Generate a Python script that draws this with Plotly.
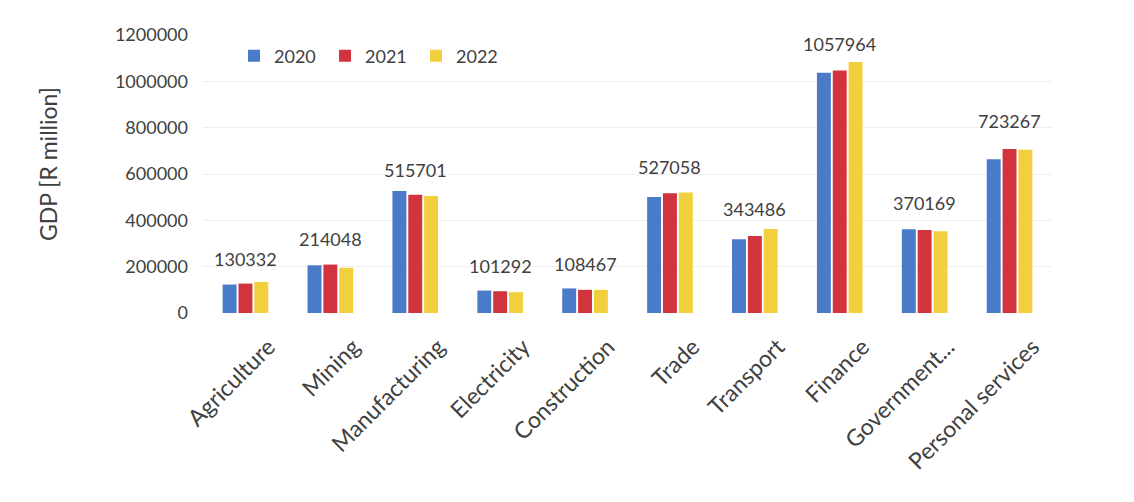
import plotly.graph_objects as go

# Sector GDP by year (R million)
sectors = ["Agriculture", "Mining", "Manufacturing", "Electricity", "Construction",
           "Trade", "Transport", "Finance", "Government services", "Personal services"]
sector_ticks = ["Agriculture", "Mining", "Manufacturing", "Electricity", "Construction",
                "Trade", "Transport", "Finance", "Government...", "Personal services"]

gdp_2020 = [123000, 206000, 527000, 97000, 106000, 501000, 318000, 1037000, 361000, 664000]
gdp_2021 = [127000, 209000, 510000, 94000, 100000, 517000, 332000, 1047000, 358000, 708000]
gdp_2022 = [134000, 195000, 505000, 90000, 100000, 520000, 363000, 1083000, 353000, 705000]

# Figures printed above each sector group
group_values = [130332, 214048, 515701, 101292, 108467, 527058, 343486, 1057964, 370169, 723267]

years = ["2020", "2021", "2022"]
series = [gdp_2020, gdp_2021, gdp_2022]
colors = ["#4a7bc9", "#d2343d", "#f2cf3c"]

FONT = "Lato"
TEXT = "#404040"

fig = go.Figure()
for name, vals, col in zip(years, series, colors):
    fig.add_trace(go.Bar(x=sectors, y=vals, name=name, marker_color=col,
                         marker_line_width=0))

for s, v in zip(sectors, group_values):
    fig.add_annotation(x=s, y=v, text=str(v), showarrow=False, xanchor="center",
                       yanchor="bottom", yshift=11,
                       font=dict(family=FONT, size=18, color=TEXT))

W, H = 1134, 502
L, R, T, B = 203, 82, 35, 189
plot_w = W - L - R
plot_h = H - T - B

fig.add_annotation(xref="paper", yref="paper", x=(48 - L) / plot_w,
                   y=1 - (164 - T) / plot_h,
                   text="GDP [R million]", textangle=-90, showarrow=False,
                   xanchor="center", yanchor="middle",
                   font=dict(family=FONT, size=23, color=TEXT))

fig.update_layout(
    width=W, height=H,
    margin=dict(l=L, r=R, t=T, b=B),
    paper_bgcolor="white", plot_bgcolor="white",
    barmode="group", bargap=0.44, bargroupgap=0.12,
    font=dict(family=FONT, size=18, color=TEXT),
    legend=dict(orientation="h", x=(234 - L) / plot_w, xanchor="left",
                y=0.924, yanchor="middle", font=dict(family=FONT, size=18, color=TEXT),
                bgcolor="rgba(0,0,0,0)", itemwidth=30, entrywidth=46),
    showlegend=True,
)
fig.update_xaxes(tickmode="array", tickvals=sectors, ticktext=sector_ticks,
                 tickangle=-45, showgrid=False, showline=False, ticks="",
                 ticklabelshift=23, ticklabelstandoff=15,
                 tickfont=dict(family=FONT, size=23, color=TEXT))
fig.update_yaxes(range=[0, 1200000], dtick=200000, showgrid=True, gridcolor="#efefef",
                 gridwidth=1, zeroline=False, showline=False, ticks="",
                 tickformat="d", ticklabelstandoff=14,
                 tickfont=dict(family=FONT, size=18, color=TEXT))

fig.write_html("out.html")
